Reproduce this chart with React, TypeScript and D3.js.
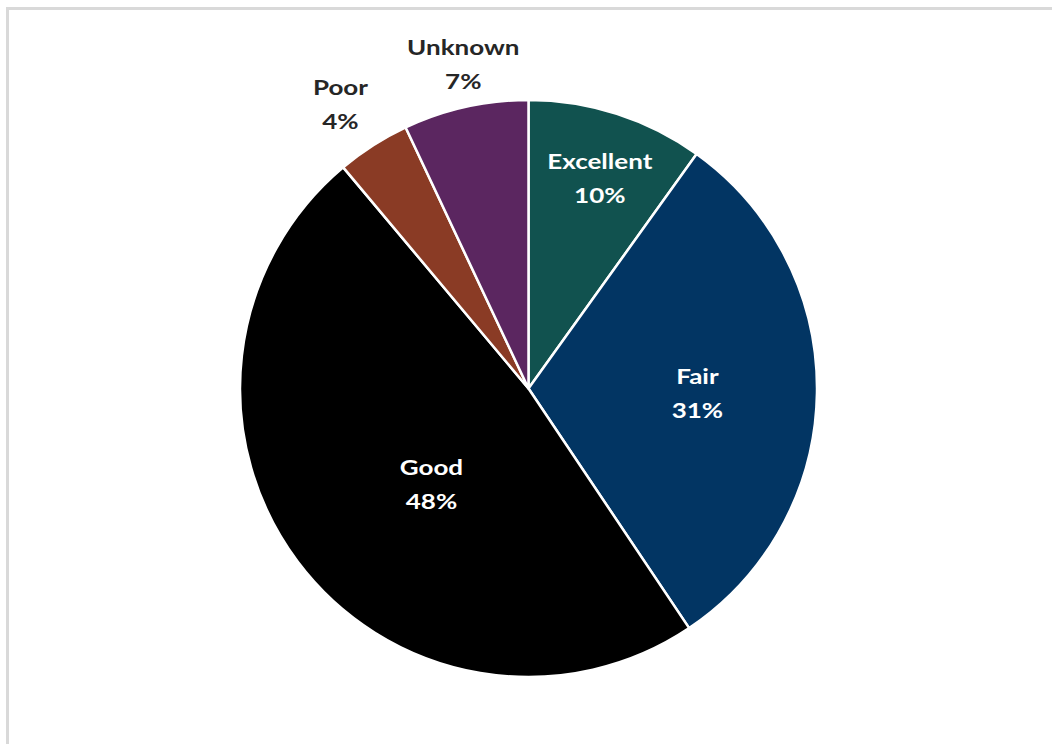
import React from "react";
import * as d3 from "d3";

const categories = ["Excellent", "Fair", "Good", "Poor", "Unknown"];
const values = [9.9, 30.7, 48.3, 4.1, 7.0];
const colors = ["#11524f", "#023563", "#000000", "#8a3b25", "#5b2660"];
const labelColors = ["#ffffff", "#ffffff", "#ffffff", "#262626", "#262626"];
// radial distance of each label center from the pie center (px) and angle nudge (deg)
const labelRadius = [221, 169, 137, 340, 330];
const labelAngleNudge = [1, 0.8, -8, -1, 1.2];

const W = 1052;
const H = 744;
const cx = 528.5;
const cy = 388.5;
const R = 288.5;

export default function App() {
  const pie = d3.pie<number>().sort(null).value((d) => d);
  const arcs = pie(values);
  const arc = d3.arc<d3.PieArcDatum<number>>().innerRadius(0).outerRadius(R);
  return (
    <svg width={W} height={H} style={{ position: "absolute", left: 0, top: 0 }}>
      <rect x={0} y={0} width={W} height={H} fill="#ffffff" />
      <rect x={7.5} y={8.5} width={W + 20} height={H + 20} fill="none" stroke="#d9d9d9" strokeWidth={3} />
      <g transform={`translate(${cx},${cy})`}>
        {arcs.map((a, i) => (
          <path key={categories[i]} d={arc(a) || ""} fill={colors[i]} stroke="#ffffff" strokeWidth={2.5} strokeLinejoin="round" />
        ))}
        {arcs.map((a, i) => {
          const mid = (a.startAngle + a.endAngle) / 2 + (labelAngleNudge[i] * Math.PI) / 180;
          const r = labelRadius[i];
          const x = r * Math.sin(mid);
          const y = -r * Math.cos(mid);
          return (
            <g key={categories[i] + "-l"} transform={`translate(${x},${y}) scale(1.3,1)`}>
              <text
                textAnchor="middle"
                fontFamily="Lato, 'Open Sans', sans-serif"
                fontWeight={700}
                fontSize={20}
                fill={labelColors[i]}
              >
                <tspan x={0} y={-10}>{categories[i]}</tspan>
                <tspan x={0} y={24}>{`${Math.round(values[i])}%`}</tspan>
              </text>
            </g>
          );
        })}
      </g>
    </svg>
  );
}
